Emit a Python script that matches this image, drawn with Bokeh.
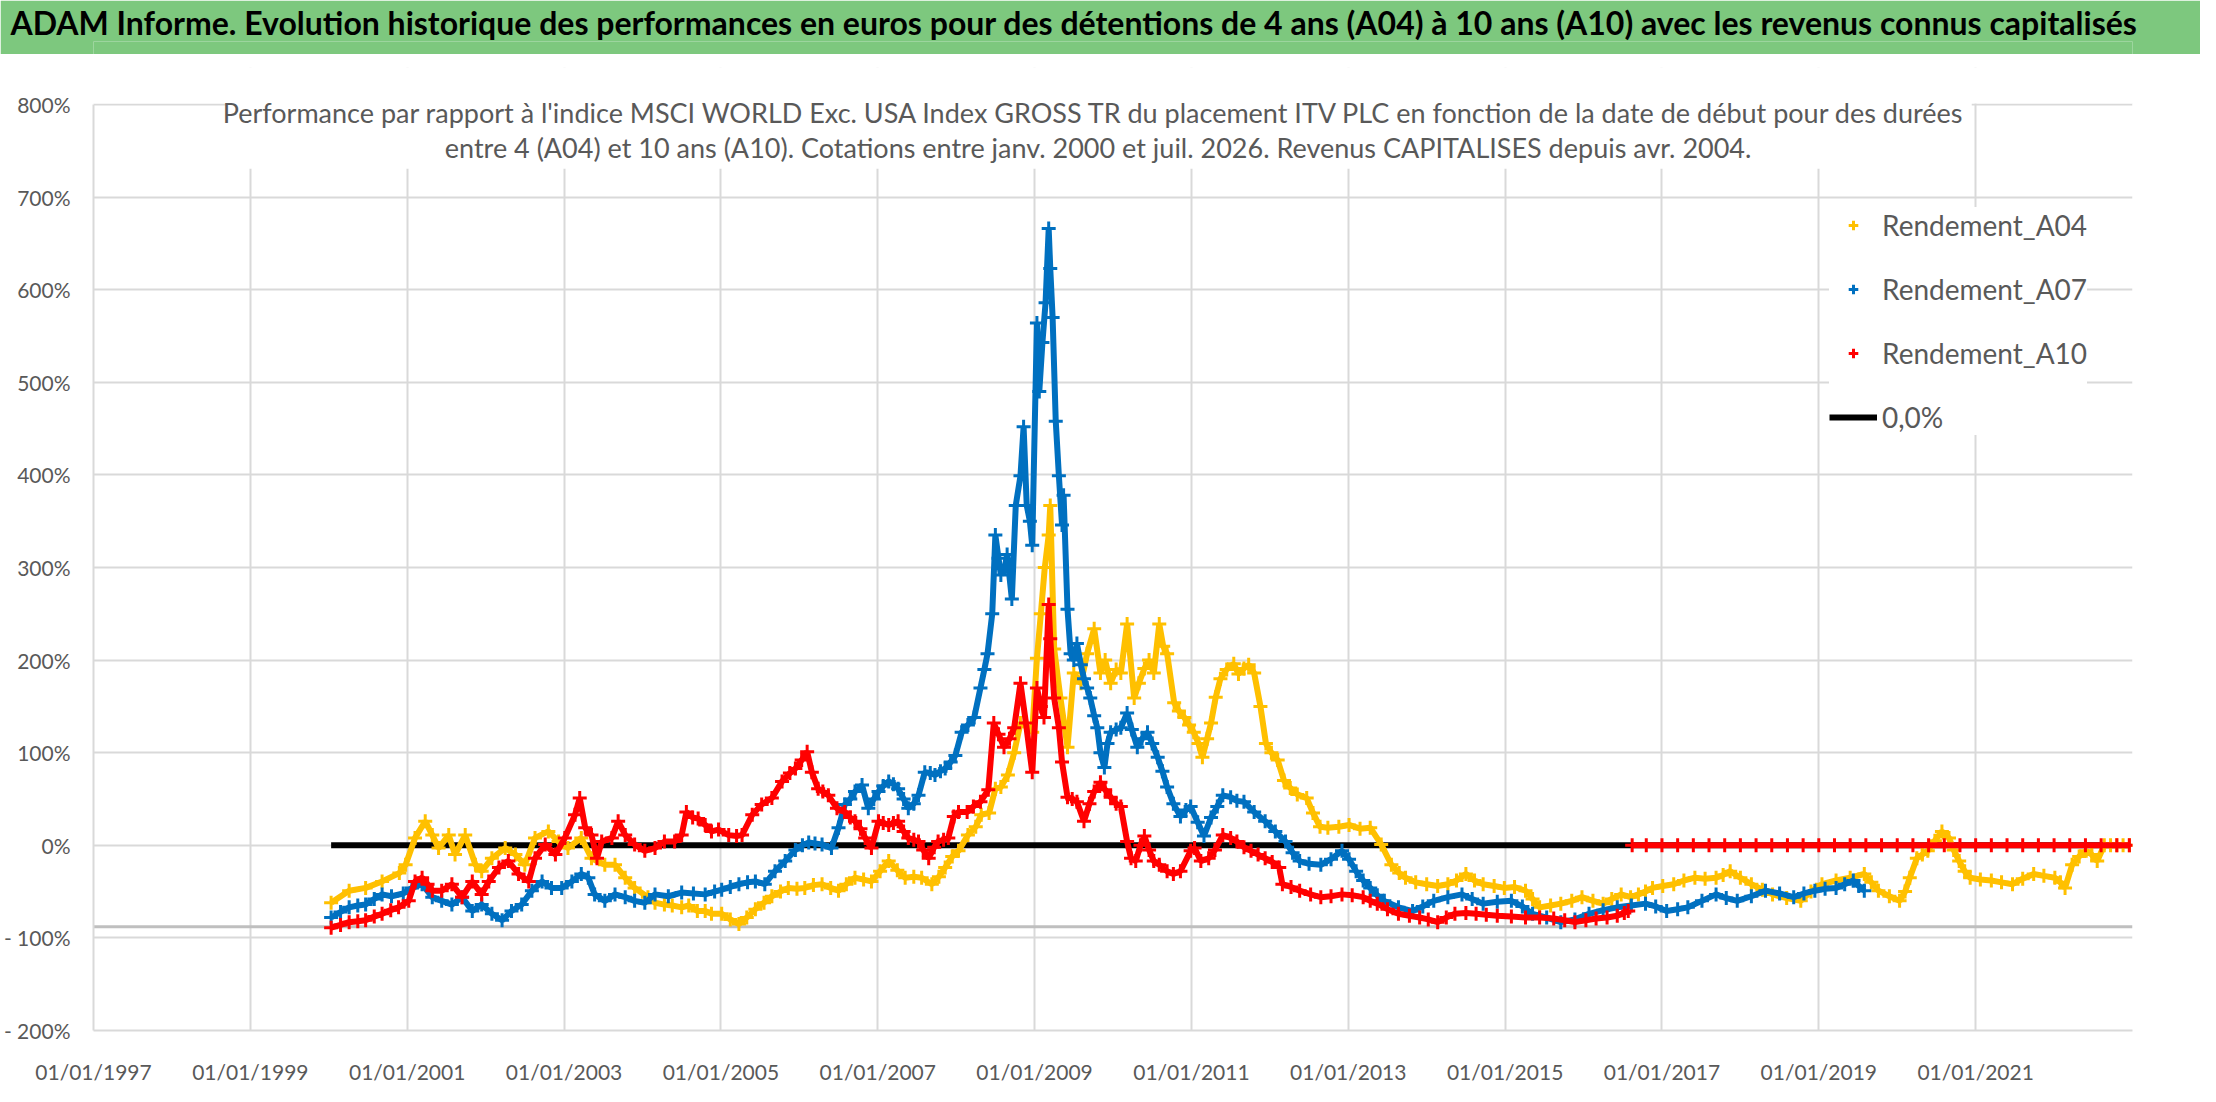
from bokeh.plotting import figure
from bokeh.models import Range1d, FixedTicker, Label, BoxAnnotation, Legend, LegendItem, Title
from bokeh.layouts import column
from bokeh.embed import file_html
from bokeh.resources import INLINE

FONT = "Lato"
TEXT_GREY = "#595959"
GRID_GREY = "#D9D9D9"
BAR_GREEN = "#7DC87E"

TITLE = ("ADAM Informe. Evolution historique des performances en euros pour des détentions "
         "de 4 ans (A04) à 10 ans (A10) avec les revenus connus capitalisés")
SUBTITLE_1 = ("Performance par rapport à l'indice MSCI WORLD Exc. USA Index GROSS TR  du placement "
              "ITV PLC en fonction de la date de début pour des durées")
SUBTITLE_2 = ("entre 4 (A04) et 10 ans (A10). Cotations entre janv. 2000 et juil. 2026. "
              "Revenus CAPITALISES depuis avr. 2004.")

# x ticks (years, labelled as 01/01/yyyy) and y ticks (%)
tick_years = [1997, 1999, 2001, 2003, 2005, 2007, 2009, 2011, 2013, 2015, 2017, 2019, 2021]
tick_pcts = [-200, -100, 0, 100, 200, 300, 400, 500, 600, 700, 800]

# Rendement_A04 (start date as decimal year, performance in %)
a04_dates = [2000.03, 2000.26, 2000.47, 2000.68, 2000.90, 2000.98, 2001.10, 2001.23, 2001.32, 2001.40,
             2001.53, 2001.61, 2001.74, 2001.87, 2001.95, 2002.08, 2002.25, 2002.38, 2002.50, 2002.63,
             2002.80, 2002.93, 2003.05, 2003.22, 2003.35, 2003.52, 2003.65, 2003.78, 2003.90, 2004.07,
             2004.16, 2004.28, 2004.38, 2004.50, 2004.59, 2004.70, 2004.80, 2004.88, 2005.01, 2005.12,
             2005.23, 2005.33, 2005.44, 2005.55, 2005.65, 2005.76, 2005.86, 2005.97, 2006.07, 2006.18,
             2006.29, 2006.40, 2006.50, 2006.60, 2006.71, 2006.82, 2006.92, 2007.03, 2007.14, 2007.25,
             2007.35, 2007.46, 2007.56, 2007.69, 2007.78, 2007.86, 2007.95, 2008.03, 2008.15, 2008.25,
             2008.32, 2008.42, 2008.50, 2008.57, 2008.66, 2008.74, 2008.82, 2008.90, 2008.97, 2009.03,
             2009.08, 2009.13, 2009.18, 2009.20, 2009.25, 2009.33, 2009.42, 2009.50, 2009.59, 2009.67,
             2009.76, 2009.84, 2009.90, 2009.97, 2010.04, 2010.10, 2010.18, 2010.27, 2010.33, 2010.40,
             2010.46, 2010.52, 2010.59, 2010.64, 2010.69, 2010.78, 2010.84, 2010.91, 2010.97, 2011.03,
             2011.09, 2011.14, 2011.20, 2011.25, 2011.31, 2011.37, 2011.45, 2011.54, 2011.60, 2011.67,
             2011.73, 2011.80, 2011.88, 2011.95, 2012.02, 2012.10, 2012.18, 2012.26, 2012.35, 2012.47,
             2012.55, 2012.64, 2012.74, 2012.88, 2013.01, 2013.15, 2013.28, 2013.42, 2013.55, 2013.65,
             2013.73, 2013.86, 2014.00, 2014.14, 2014.27, 2014.38, 2014.50, 2014.61, 2014.72, 2014.86,
             2014.99, 2015.12, 2015.26, 2015.35, 2015.44, 2015.58, 2015.71, 2015.85, 2015.98, 2016.12,
             2016.25, 2016.36, 2016.48, 2016.60, 2016.70, 2016.79, 2016.88, 2017.01, 2017.15, 2017.28,
             2017.42, 2017.55, 2017.69, 2017.78, 2017.87, 2018.00, 2018.14, 2018.28, 2018.41, 2018.59,
             2018.77, 2018.90, 2019.04, 2019.22, 2019.40, 2019.58, 2019.67, 2019.76, 2019.90, 2020.03,
             2020.10, 2020.16, 2020.25, 2020.32, 2020.39, 2020.48, 2020.57, 2020.66, 2020.72, 2020.79,
             2020.86, 2020.93, 2021.06, 2021.20, 2021.33, 2021.47, 2021.60, 2021.74, 2021.87, 2022.01,
             2022.08, 2022.14, 2022.23, 2022.32, 2022.41, 2022.48, 2022.55, 2022.64, 2022.72, 2022.80,
             2022.88, 2022.96]
a04_values = [-62, -49, -46, -39, -30, -21, 8, 26, 11, -3,
              11, -10, 11, -21, -28, -14, -3, -10, -21, 8,
              15, 4, -3, 8, -14, -21, -21, -35, -46, -56,
              -62, -64, -65, -67, -65, -71, -71, -74, -74, -80,
              -85, -78, -69, -62, -55, -50, -46, -47, -46, -43,
              -42, -46, -49, -42, -35, -37, -39, -28, -17, -27,
              -35, -34, -35, -42, -34, -24, -12, -6, 11, 20,
              33, 35, 61, 63, 76, 100, 132, 128, 122, 202,
              250, 300, 335, 367, 212, 159, 106, 186, 175, 207,
              234, 186, 200, 175, 190, 186, 239, 159, 175, 191,
              200, 186, 239, 215, 207, 154, 145, 138, 130, 122,
              110, 95, 115, 132, 160, 180, 190, 196, 185, 191,
              195, 186, 150, 110, 100, 92, 70, 62, 55, 51,
              35, 20, 19, 20, 22, 18, 19, 1, -21, -30,
              -35, -40, -42, -44, -42, -38, -31, -38, -42, -44,
              -46, -45, -49, -58, -67, -65, -63, -60, -56, -60,
              -63, -58, -53, -56, -53, -50, -46, -44, -42, -38,
              -35, -36, -35, -32, -28, -35, -42, -48, -53, -57,
              -60, -50, -42, -38, -35, -31, -40, -49, -55, -60,
              -50, -35, -14, -10, -6, 5, 15, 8, -5, -17,
              -28, -35, -37, -38, -40, -42, -36, -31, -33, -35,
              -40, -46, -21, -12, -6, -10, -17, 0, 0, 0,
              0, 0]

# Rendement_A07
a07_dates = [2000.03, 2000.15, 2000.26, 2000.37, 2000.47, 2000.58, 2000.68, 2000.80, 2000.95, 2001.06,
             2001.19, 2001.32, 2001.44, 2001.57, 2001.70, 2001.83, 2001.95, 2002.08, 2002.21, 2002.33,
             2002.46, 2002.59, 2002.72, 2002.84, 2002.97, 2003.10, 2003.22, 2003.31, 2003.39, 2003.52,
             2003.65, 2003.78, 2003.90, 2004.03, 2004.16, 2004.33, 2004.50, 2004.65, 2004.80, 2004.92,
             2005.01, 2005.12, 2005.23, 2005.34, 2005.44, 2005.56, 2005.69, 2005.82, 2005.95, 2006.04,
             2006.12, 2006.20, 2006.29, 2006.41, 2006.50, 2006.58, 2006.65, 2006.71, 2006.80, 2006.88,
             2006.95, 2007.01, 2007.07, 2007.14, 2007.20, 2007.26, 2007.33, 2007.39, 2007.46, 2007.52,
             2007.60, 2007.67, 2007.73, 2007.80, 2007.86, 2007.93, 2007.99, 2008.07, 2008.15, 2008.23,
             2008.31, 2008.36, 2008.40, 2008.46, 2008.50, 2008.54, 2008.57, 2008.62, 2008.65, 2008.71,
             2008.76, 2008.82, 2008.86, 2008.90, 2008.94, 2008.97, 2009.03, 2009.06, 2009.10, 2009.14,
             2009.18, 2009.20, 2009.23, 2009.27, 2009.31, 2009.35, 2009.37, 2009.42, 2009.46, 2009.50,
             2009.54, 2009.59, 2009.63, 2009.67, 2009.71, 2009.76, 2009.80, 2009.84, 2009.89, 2009.93,
             2009.97, 2010.04, 2010.10, 2010.18, 2010.24, 2010.31, 2010.37, 2010.44, 2010.50, 2010.57,
             2010.63, 2010.69, 2010.77, 2010.86, 2010.93, 2010.99, 2011.08, 2011.16, 2011.25, 2011.33,
             2011.40, 2011.50, 2011.58, 2011.67, 2011.80, 2011.94, 2012.07, 2012.20, 2012.29, 2012.38,
             2012.50, 2012.65, 2012.78, 2012.92, 2013.01, 2013.10, 2013.19, 2013.28, 2013.37, 2013.46,
             2013.64, 2013.82, 2013.95, 2014.09, 2014.27, 2014.45, 2014.58, 2014.72, 2014.90, 2015.08,
             2015.22, 2015.35, 2015.53, 2015.71, 2015.89, 2016.07, 2016.25, 2016.43, 2016.61, 2016.79,
             2016.92, 2017.06, 2017.20, 2017.33, 2017.51, 2017.69, 2017.82, 2017.96, 2018.14, 2018.32,
             2018.50, 2018.68, 2018.81, 2018.95, 2019.08, 2019.22, 2019.33, 2019.44, 2019.51, 2019.58]
a07_values = [-78, -72, -67, -65, -64, -58, -53, -55, -52, -46,
              -42, -56, -60, -64, -56, -71, -64, -74, -81, -71,
              -64, -49, -39, -46, -46, -39, -31, -35, -53, -60,
              -53, -56, -60, -62, -53, -55, -51, -52, -53, -50,
              -48, -45, -42, -40, -39, -42, -28, -17, -5, 0,
              3, 2, 1, -3, 19, 44, 50, 58, 65, 40,
              50, 58, 64, 69, 66, 61, 50, 40, 45, 54,
              79, 78, 76, 80, 83, 90, 97, 122, 130, 138,
              170, 190, 207, 250, 335, 310, 292, 300, 314, 266,
              367, 399, 452, 367, 350, 324, 564, 490, 543, 586,
              666, 623, 570, 458, 399, 346, 378, 255, 207, 200,
              218, 195, 180, 170, 159, 140, 127, 100, 84, 110,
              122, 125, 127, 143, 125, 106, 115, 122, 110, 95,
              80, 63, 45, 31, 38, 42, 25, 10, 30, 42,
              54, 52, 48, 47, 36, 26, 15, 4, -8, -17,
              -20, -21, -15, -6, -15, -28, -38, -46, -54, -60,
              -67, -71, -66, -60, -56, -53, -58, -63, -61, -60,
              -66, -74, -78, -83, -80, -74, -70, -67, -65, -63,
              -66, -71, -69, -67, -60, -53, -57, -60, -55, -49,
              -52, -56, -52, -49, -47, -46, -42, -38, -44, -49]

# Rendement_A10
a10_dates = [2000.03, 2000.15, 2000.26, 2000.37, 2000.47, 2000.58, 2000.68, 2000.79, 2000.89, 2001.02,
             2001.10, 2001.19, 2001.26, 2001.32, 2001.44, 2001.57, 2001.70, 2001.83, 2001.95, 2002.04,
             2002.17, 2002.29, 2002.42, 2002.55, 2002.63, 2002.76, 2002.89, 2003.01, 2003.14, 2003.20,
             2003.27, 2003.35, 2003.42, 2003.48, 2003.61, 2003.69, 2003.78, 2003.90, 2004.03, 2004.16,
             2004.28, 2004.41, 2004.50, 2004.56, 2004.64, 2004.71, 2004.80, 2004.88, 2004.97, 2005.10,
             2005.20, 2005.27, 2005.40, 2005.52, 2005.65, 2005.78, 2005.88, 2005.95, 2006.03, 2006.10,
             2006.16, 2006.24, 2006.30, 2006.37, 2006.48, 2006.58, 2006.65, 2006.71, 2006.78, 2006.84,
             2006.92, 2007.01, 2007.07, 2007.14, 2007.20, 2007.26, 2007.33, 2007.39, 2007.46, 2007.52,
             2007.58, 2007.65, 2007.72, 2007.77, 2007.84, 2007.90, 2007.97, 2008.03, 2008.14, 2008.22,
             2008.31, 2008.41, 2008.48, 2008.54, 2008.61, 2008.68, 2008.74, 2008.82, 2008.89, 2008.97,
             2009.03, 2009.08, 2009.12, 2009.18, 2009.20, 2009.25, 2009.31, 2009.35, 2009.42, 2009.48,
             2009.54, 2009.63, 2009.70, 2009.76, 2009.84, 2009.90, 2009.97, 2010.04, 2010.10, 2010.18,
             2010.23, 2010.29, 2010.35, 2010.40, 2010.46, 2010.52, 2010.59, 2010.69, 2010.77, 2010.86,
             2010.99, 2011.04, 2011.12, 2011.22, 2011.30, 2011.40, 2011.50, 2011.58, 2011.67, 2011.76,
             2011.85, 2011.94, 2012.03, 2012.12, 2012.16, 2012.27, 2012.38, 2012.52, 2012.65, 2012.78,
             2012.92, 2013.05, 2013.19, 2013.28, 2013.37, 2013.50, 2013.64, 2013.78, 2013.91, 2014.02,
             2014.14, 2014.25, 2014.36, 2014.50, 2014.63, 2014.76, 2014.90, 2015.08, 2015.26, 2015.44,
             2015.62, 2015.76, 2015.89, 2016.03, 2016.16, 2016.30, 2016.43, 2016.52, 2016.57]
a10_values = [-89, -86, -83, -82, -81, -77, -74, -70, -67, -60,
              -39, -35, -42, -49, -49, -42, -56, -39, -53, -39,
              -24, -17, -31, -39, -14, 1, -10, 8, 33, 51,
              19, 11, -14, 4, 8, 26, 11, 1, -6, -3,
              4, 4, 11, 36, 30, 29, 22, 15, 17, 11,
              10, 11, 33, 44, 51, 69, 78, 83, 92, 101,
              79, 61, 58, 54, 40, 36, 30, 26, 18, 8,
              -3, 26, 24, 22, 24, 26, 15, 8, 6, 4,
              -5, -14, -2, 4, 6, 8, 31, 36, 36, 42,
              47, 60, 132, 120, 106, 115, 127, 175, 132, 79,
              170, 150, 138, 260, 223, 159, 127, 90, 52, 50,
              47, 26, 45, 58, 68, 60, 52, 45, 42, 4,
              -14, -17, 0, 10, -5, -17, -21, -28, -31, -28,
              -6, -3, -17, -14, -5, 11, 8, 4, -2, -6,
              -10, -14, -18, -24, -42, -45, -49, -53, -56, -55,
              -53, -54, -56, -60, -63, -69, -74, -76, -78, -80,
              -83, -78, -74, -73, -74, -75, -76, -77, -78, -78,
              -79, -81, -83, -81, -79, -78, -76, -73, -71]

# A10 periods not yet complete: plotted at 0 %
a10_open_dates = [2016.62, 2016.80, 2017.00, 2017.20, 2017.40, 2017.60, 2017.80, 2018.00, 2018.20, 2018.40,
                  2018.60, 2018.80, 2019.00, 2019.20, 2019.40, 2019.60, 2019.80, 2020.00, 2020.20, 2020.40,
                  2020.60, 2020.80, 2021.00, 2021.20, 2021.40, 2021.60, 2021.80, 2022.00, 2022.20, 2022.40,
                  2022.60, 2022.80, 2022.96]
a10_open_values = [0, 0, 0, 0, 0, 0, 0, 0, 0, 0,
                   0, 0, 0, 0, 0, 0, 0, 0, 0, 0,
                   0, 0, 0, 0, 0, 0, 0, 0, 0, 0,
                   0, 0, 0]

# 0,0% reference line and the grey floor line
zero_dates = [2000.03, 2022.96]
zero_values = [0, 0]
floor_dates = [1997, 2023]
floor_values = [-88, -88]

# ---- title bar -------------------------------------------------------------
# its frame lines up with the chart below, so the title is pulled left with a negative offset
header = figure(width=2200, height=54, x_range=Range1d(0, 1), y_range=Range1d(0, 1),
                output_backend="svg", toolbar_location=None, title=None,
                x_axis_location=None, y_axis_location=None,
                min_border_left=89, min_border_right=68, min_border_top=8, min_border_bottom=0,
                outline_line_color=None, background_fill_color=BAR_GREEN,
                border_fill_color=BAR_GREEN)
header.grid.visible = False
header.add_layout(Title(text=TITLE, text_font=FONT, text_font_style="bold", text_font_size="32px",
                        text_color="black", align="left", offset=-83, standoff=0), "above")

# ---- main chart ------------------------------------------------------------
# the range runs a little above 800 % so the chart title fits inside the frame
p = figure(width=2200, height=1032, x_range=Range1d(1997, 2023), y_range=Range1d(-200, 840),
           output_backend="svg", toolbar_location=None, title=None,
           min_border_left=89, min_border_right=68, min_border_top=13, min_border_bottom=48,
           outline_line_color=None, background_fill_color="white", border_fill_color="white")

p.xaxis.ticker = FixedTicker(ticks=tick_years)
p.xaxis.major_label_overrides = {y: "01/01/%d" % y for y in tick_years}
p.yaxis.ticker = FixedTicker(ticks=tick_pcts)
p.yaxis.major_label_overrides = {v: ("- %d%%" % -v if v < 0 else "%d%%" % v) for v in tick_pcts}
p.yaxis.bounds = (-200, 800)

for ax in (p.xaxis, p.yaxis):
    ax.axis_line_color = GRID_GREY
    ax.axis_line_width = 2
    ax.major_tick_line_color = None
    ax.minor_tick_line_color = None
    ax.major_label_text_font = FONT
    ax.major_label_text_font_size = "21px"
    ax.major_label_text_color = TEXT_GREY
p.xaxis.major_label_standoff = 22
p.yaxis.major_label_standoff = 17

p.grid.grid_line_color = GRID_GREY
p.grid.grid_line_width = 2

p.line(floor_dates, floor_values, line_color="#BFBFBF", line_width=3)
zero_r = p.line(zero_dates, zero_values, line_color="black", line_width=6)

series = [
    ("Rendement_A04", a04_dates, a04_values, "#FFC000"),
    ("Rendement_A07", a07_dates, a07_values, "#0070C0"),
    ("Rendement_A10", a10_dates, a10_values, "#FF0000"),
]
items = []
for name, dates, vals, color in series:
    p.line(dates, vals, line_color=color, line_width=6)
    r = p.scatter(dates, vals, marker="cross", size=14, line_color=color, line_width=3)
    items.append(LegendItem(label=name, renderers=[r]))
p.line(a10_open_dates, a10_open_values, line_color="#FF0000", line_width=6)
p.scatter(a10_open_dates, a10_open_values, marker="cross", size=14, line_color="#FF0000", line_width=3)
items.append(LegendItem(label="0,0%", renderers=[zero_r]))

# hide the grid above 800 %, then the white box behind the chart title
p.add_layout(BoxAnnotation(bottom=801, fill_color="white", fill_alpha=1, line_color=None))
p.add_layout(BoxAnnotation(left=1998.69, right=2020.95, bottom=730.7,
                           fill_color="white", fill_alpha=1, line_color=None))
for txt, yv in ((SUBTITLE_1, 791), (SUBTITLE_2, 753.5)):
    p.add_layout(Label(x=2009.81, y=yv, text=txt, text_font=FONT, text_font_size="27px",
                       text_color=TEXT_GREY, text_align="center", text_baseline="alphabetic"))

legend = Legend(items=items, location=(1736, 595), glyph_width=48, glyph_height=24,
                label_height=36, spacing=28, padding=14, label_standoff=5,
                label_text_font=FONT, label_text_font_size="28px", label_text_color=TEXT_GREY,
                border_line_color=None, background_fill_color="white", background_fill_alpha=1)
p.add_layout(legend)

layout = column(header, p, spacing=0)
open("out.html", "w").write(file_html(layout, INLINE))
